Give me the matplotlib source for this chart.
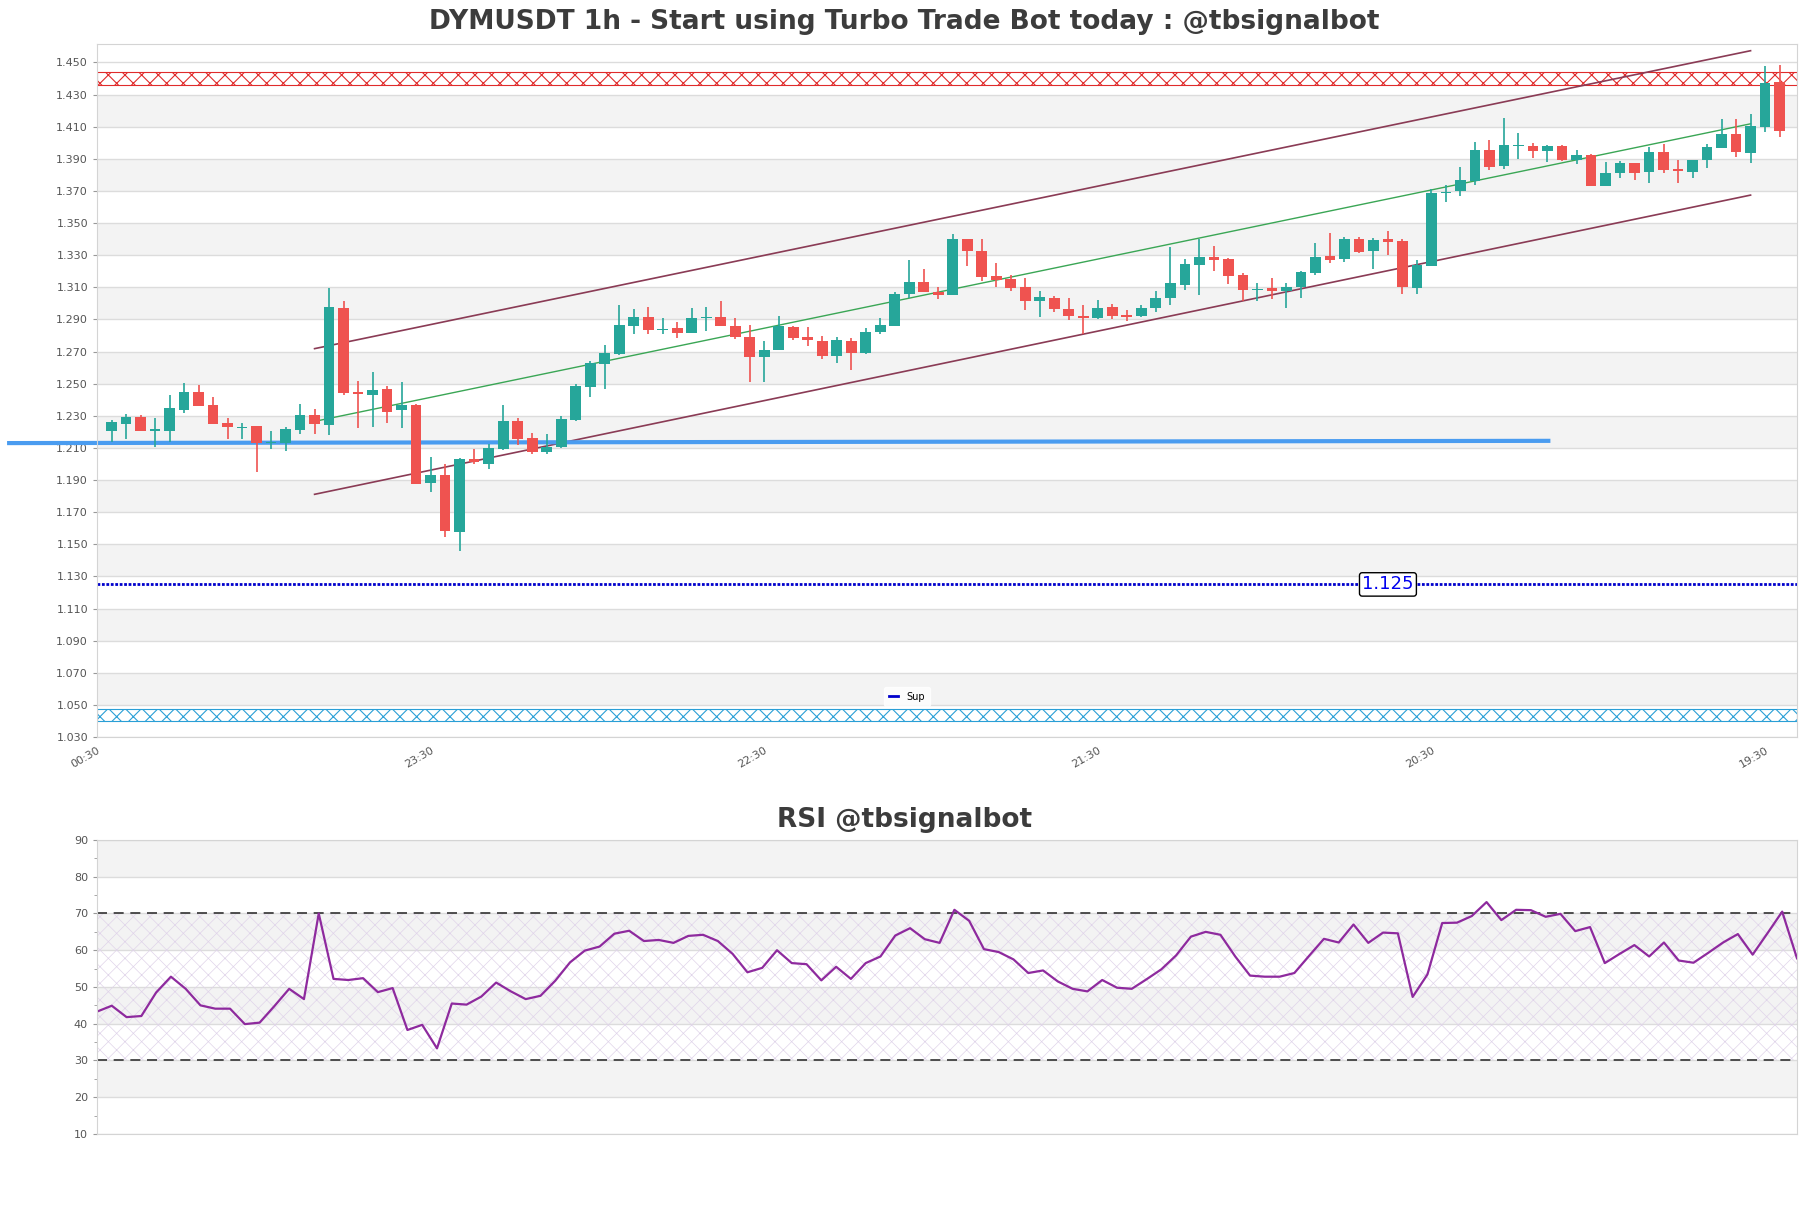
import matplotlib
matplotlib.use("Agg")
import matplotlib.pyplot as plt
from matplotlib.ticker import MultipleLocator
from matplotlib.lines import Line2D

# candles, oldest first
opens = [1.2208, 1.2249, 1.2295, 1.2208, 1.2208, 1.2338, 1.2448, 1.2367, 1.2255, 1.2226,
         1.2237, 1.2131, 1.2133, 1.2214, 1.2305, 1.2245, 1.2971, 1.2446, 1.2430, 1.2467,
         1.2338, 1.2370, 1.1884, 1.1932, 1.1579, 1.2029, 1.2002, 1.2094, 1.2268, 1.2162,
         1.2077, 1.2108, 1.2274, 1.2482, 1.2625, 1.2687, 1.2861, 1.2915, 1.2836, 1.2847,
         1.2818, 1.2911, 1.2915, 1.2859, 1.2789, 1.2668, 1.2707, 1.2851, 1.2792, 1.2767,
         1.2670, 1.2767, 1.2689, 1.2819, 1.2861, 1.3056, 1.3135, 1.3073, 1.3050, 1.3402,
         1.3328, 1.3172, 1.3149, 1.3102, 1.3012, 1.3033, 1.2967, 1.2919, 1.2907, 1.2980,
         1.2926, 1.2921, 1.2971, 1.3033, 1.3114, 1.3239, 1.3287, 1.3274, 1.3175, 1.3083,
         1.3094, 1.3077, 1.3102, 1.3189, 1.3293, 1.3276, 1.3399, 1.3326, 1.3399, 1.3386,
         1.3096, 1.3233, 1.3689, 1.3701, 1.3763, 1.3954, 1.3855, 1.3977, 1.3977, 1.3948,
         1.3977, 1.3894, 1.3923, 1.3732, 1.3811, 1.3877, 1.3819, 1.3940, 1.3836, 1.3819,
         1.3894, 1.3968, 1.4053, 1.3936, 1.4099, 1.4377]
highs = [1.2274, 1.2311, 1.2303, 1.2287, 1.2428, 1.2504, 1.2492, 1.2417, 1.2287, 1.2253,
         1.2237, 1.2204, 1.2231, 1.2372, 1.2343, 1.3094, 1.3015, 1.2517, 1.2573, 1.2486,
         1.2509, 1.2376, 1.2042, 1.1998, 1.2036, 1.2094, 1.2125, 1.2368, 1.2287, 1.2193,
         1.2187, 1.2299, 1.2498, 1.2641, 1.2741, 1.2992, 1.2963, 1.2978, 1.2907, 1.2882,
         1.2971, 1.2978, 1.3015, 1.2907, 1.2866, 1.2766, 1.2923, 1.2861, 1.2855, 1.2799,
         1.2788, 1.2782, 1.2848, 1.2907, 1.3073, 1.3272, 1.3216, 1.3102, 1.3434, 1.3402,
         1.3402, 1.3253, 1.3174, 1.3158, 1.3075, 1.3046, 1.3033, 1.2990, 1.3023, 1.2998,
         1.2959, 1.2988, 1.3075, 1.3351, 1.3278, 1.3399, 1.3357, 1.3282, 1.3187, 1.3129,
         1.3160, 1.3125, 1.3204, 1.3374, 1.3436, 1.3411, 1.3411, 1.3405, 1.3448, 1.3399,
         1.3270, 1.3710, 1.3736, 1.3848, 1.4002, 1.4019, 1.4151, 1.4058, 1.3999, 1.3983,
         1.3983, 1.3952, 1.3927, 1.3880, 1.3886, 1.3877, 1.3971, 1.3994, 1.3892, 1.3890,
         1.3994, 1.4145, 1.4145, 1.4182, 1.4475, 1.4485]
lows = [1.2139, 1.2156, 1.2208, 1.2108, 1.2135, 1.2320, 1.2363, 1.2251, 1.2156, 1.2156,
        1.1953, 1.2096, 1.2083, 1.2189, 1.2189, 1.2183, 1.2430, 1.2226, 1.2233, 1.2258,
        1.2226, 1.1878, 1.1828, 1.1548, 1.1455, 1.2000, 1.1967, 1.2085, 1.2116, 1.2065,
        1.2065, 1.2102, 1.2268, 1.2419, 1.2469, 1.2679, 1.2812, 1.2812, 1.2807, 1.2787,
        1.2818, 1.2830, 1.2857, 1.2778, 1.2512, 1.2512, 1.2707, 1.2770, 1.2732, 1.2651,
        1.2626, 1.2583, 1.2682, 1.2807, 1.2857, 1.3035, 1.3068, 1.3025, 1.3050, 1.3230,
        1.3141, 1.3100, 1.3075, 1.2956, 1.2913, 1.2944, 1.2894, 1.2809, 1.2900, 1.2905,
        1.2890, 1.2917, 1.2946, 1.2988, 1.3083, 1.3054, 1.3202, 1.3123, 1.3013, 1.3017,
        1.3029, 1.2971, 1.3033, 1.3175, 1.3253, 1.3258, 1.3314, 1.3214, 1.3301, 1.3058,
        1.3058, 1.3233, 1.3633, 1.3670, 1.3736, 1.3832, 1.3838, 1.3898, 1.3904, 1.3880,
        1.3887, 1.3869, 1.3732, 1.3732, 1.3780, 1.3765, 1.3751, 1.3813, 1.3751, 1.3782,
        1.3843, 1.3968, 1.3911, 1.3874, 1.4064, 1.4036]
closes = [1.2260, 1.2293, 1.2208, 1.2218, 1.2349, 1.2448, 1.2363, 1.2251, 1.2233, 1.2233,
          1.2131, 1.2135, 1.2216, 1.2305, 1.2247, 1.2978, 1.2440, 1.2438, 1.2461, 1.2326,
          1.2370, 1.1878, 1.1930, 1.1585, 1.2031, 1.2011, 1.2100, 1.2268, 1.2158, 1.2077,
          1.2106, 1.2280, 1.2486, 1.2627, 1.2691, 1.2866, 1.2915, 1.2836, 1.2843, 1.2818,
          1.2907, 1.2915, 1.2857, 1.2793, 1.2668, 1.2710, 1.2857, 1.2782, 1.2770, 1.2670,
          1.2774, 1.2689, 1.2824, 1.2867, 1.3060, 1.3135, 1.3068, 1.3050, 1.3402, 1.3324,
          1.3162, 1.3143, 1.3093, 1.3012, 1.3039, 1.2963, 1.2919, 1.2907, 1.2971, 1.2921,
          1.2915, 1.2973, 1.3036, 1.3125, 1.3243, 1.3287, 1.3270, 1.3170, 1.3083, 1.3089,
          1.3077, 1.3104, 1.3193, 1.3287, 1.3270, 1.3399, 1.3320, 1.3392, 1.3382, 1.3102,
          1.3239, 1.3685, 1.3695, 1.3765, 1.3954, 1.3851, 1.3983, 1.3983, 1.3950, 1.3977,
          1.3894, 1.3921, 1.3732, 1.3809, 1.3877, 1.3813, 1.3940, 1.3832, 1.3826, 1.3890,
          1.3971, 1.4053, 1.3943, 1.4103, 1.4371, 1.4074]

rsi = [43.3, 44.9, 41.8, 42.1, 48.5, 52.8, 49.5, 45.0, 44.1, 44.1,
       39.9, 40.3, 44.8, 49.5, 46.7, 70.0, 52.2, 51.9, 52.4, 48.6,
       49.7, 38.3, 39.7, 33.3, 45.5, 45.2, 47.4, 51.2, 48.8, 46.7,
       47.6, 51.7, 56.7, 59.9, 61.0, 64.5, 65.3, 62.5, 62.8, 62.0,
       63.9, 64.2, 62.5, 59.0, 54.0, 55.2, 60.0, 56.5, 56.2, 51.8,
       55.5, 52.2, 56.5, 58.3, 64.0, 66.0, 63.0, 62.0, 71.0, 68.0,
       60.3, 59.5, 57.5, 53.8, 54.5, 51.5, 49.5, 48.8, 51.9, 49.8,
       49.5, 52.1, 54.8, 58.6, 63.7, 65.0, 64.2, 58.3, 53.1, 52.8,
       52.8, 53.8, 58.5, 63.1, 62.1, 67.0, 62.0, 64.8, 64.6, 47.3,
       53.4, 67.4, 67.5, 69.3, 73.1, 68.2, 71.0, 70.9, 69.1, 69.9,
       65.2, 66.3, 56.5, 59.0, 61.4, 58.3, 62.1, 57.2, 56.6, 59.3,
       62.1, 64.4, 58.8, 64.6, 70.5, 57.8]

tick_pos = [0, 23, 46, 69, 92, 115]
tick_labels = ["00:30", "23:30", "22:30", "21:30", "20:30", "19:30"]

sup_level = 1.125
res_zone = (1.4361, 1.4438)
sup_zone = (1.0402, 1.0473)
trend_x = (-6.2, 100.2)
trend_y = (1.2130, 1.2144)
chan_x = (15, 114)
chan_upper = (1.2718, 1.4573)
chan_mid = (1.2265, 1.4118)
chan_lower = (1.1811, 1.3674)

GREEN = "#26a69a"
RED = "#ef5350"
BAND = "#f3f3f3"
GRID = "#dcdcdc"
TXT = "#555555"

plt.rcParams["hatch.linewidth"] = 0.8

fig = plt.figure(figsize=(18.11, 12.08), dpi=100)
ax = fig.add_axes([0.05356, 0.3899, 0.9387, 0.5737])
ax2 = fig.add_axes([0.05356, 0.06126, 0.9387, 0.2434])


def style(a):
    for s in a.spines.values():
        s.set_color("#d4d4d4")
    a.tick_params(axis="both", labelsize=8, colors=TXT, length=3, width=0.8)
    a.tick_params(axis="y", color="#999999")


# ---- price chart ----
levels = [round(1.03 + 0.02 * i, 3) for i in range(22)]
for i in range(len(levels) - 1):
    if i % 2 == 1:
        ax.axhspan(levels[i], levels[i + 1], color=BAND, lw=0, zorder=0)
for lv in levels:
    ax.axhline(lv, color=GRID, lw=1, zorder=0.5)

ax.axhspan(*res_zone, facecolor="none", edgecolor="#e02b2b", hatch="xx", lw=0.8, zorder=1)
ax.axhspan(*sup_zone, facecolor="none", edgecolor="#2a9fd6", hatch="xx", lw=0.8, zorder=1)

ax.plot(chan_x, chan_upper, color="#8a3b55", lw=1.2, zorder=1.5)
ax.plot(chan_x, chan_lower, color="#8a3b55", lw=1.2, zorder=1.5)
ax.plot(chan_x, chan_mid, color="#3aa655", lw=1.0, zorder=1.5)

ax.plot(trend_x, trend_y, color="#4a9cf0", lw=3, solid_capstyle="butt",
        clip_on=False, zorder=1.6)

ax.axhline(sup_level, color="#0000cc", lw=2, ls=(0, (1, 0.6)), zorder=1.6)
ax.text(89, sup_level, "%.3f" % sup_level, color="#0000ee", fontsize=13,
        ha="center", va="center", zorder=5,
        bbox=dict(boxstyle="round,pad=0.15", fc="white", ec="black", lw=1))

xs = list(range(1, len(opens) + 1))
cols = [GREEN if c >= o else RED for o, c in zip(opens, closes)]
ax.vlines(xs, lows, highs, colors=cols, lw=1.2, zorder=2)
bottoms = [min(o, c) for o, c in zip(opens, closes)]
heights = [max(abs(c - o), 0.0005) for o, c in zip(opens, closes)]
ax.bar(xs, heights, bottom=bottoms, width=0.74, color=cols, lw=0, zorder=3)

ax.set_xlim(0, 117.2)
ax.set_ylim(1.03, 1.4615)
ax.set_yticks(levels)
ax.set_yticklabels(["%.3f" % v for v in levels])
ax.set_xticks(tick_pos)
ax.set_xticklabels(tick_labels, rotation=30, ha="right", rotation_mode="anchor")
style(ax)
ax.tick_params(axis="x", length=0, pad=6)

sup_handle = Line2D([], [], color="#0000cc", lw=2)
leg = ax.legend([sup_handle], ["Sup"], loc="center", bbox_to_anchor=(0.5007, 0.4234),
                bbox_transform=fig.transFigure, fontsize=7, handlelength=1.0,
                frameon=True, borderpad=0.5)
leg.get_frame().set_edgecolor("white")
leg.get_frame().set_facecolor("white")

fig.text(0.4994, 0.9818, "DYMUSDT 1h - Start using Turbo Trade Bot today : @tbsignalbot",
         ha="center", va="center", fontsize=19, fontweight="bold", color="#3c3c3c")

# ---- RSI ----
plt.rcParams["hatch.linewidth"] = 0.5
rlev = list(range(10, 100, 10))
for i in range(len(rlev) - 1):
    if i % 2 == 1:
        ax2.axhspan(rlev[i], rlev[i + 1], color=BAND, lw=0, zorder=0)
for lv in rlev:
    ax2.axhline(lv, color=GRID, lw=1, zorder=0.5)
ax2.axhspan(30, 70, facecolor="none", edgecolor="#e0d4ea", hatch="xx", lw=0, zorder=0.8)
ax2.axhline(30, color="#333333", lw=1.2, ls=(0, (6, 4)), zorder=1)
ax2.axhline(70, color="#333333", lw=1.2, ls=(0, (6, 4)), zorder=1)
ax2.plot(range(len(rsi)), rsi, color="#8e2a9e", lw=1.6, zorder=2)

ax2.set_xlim(0, len(rsi) - 1)
ax2.set_ylim(10, 90)
ax2.yaxis.set_major_locator(MultipleLocator(10))
ax2.yaxis.set_minor_locator(MultipleLocator(5))
ax2.set_xticks([])
style(ax2)
ax2.tick_params(axis="y", which="minor", length=2, color="#999999")

fig.text(0.4994, 0.3212, "RSI @tbsignalbot", ha="center", va="center",
         fontsize=19, fontweight="bold", color="#3c3c3c")

fig.savefig("out.png", dpi=100)
